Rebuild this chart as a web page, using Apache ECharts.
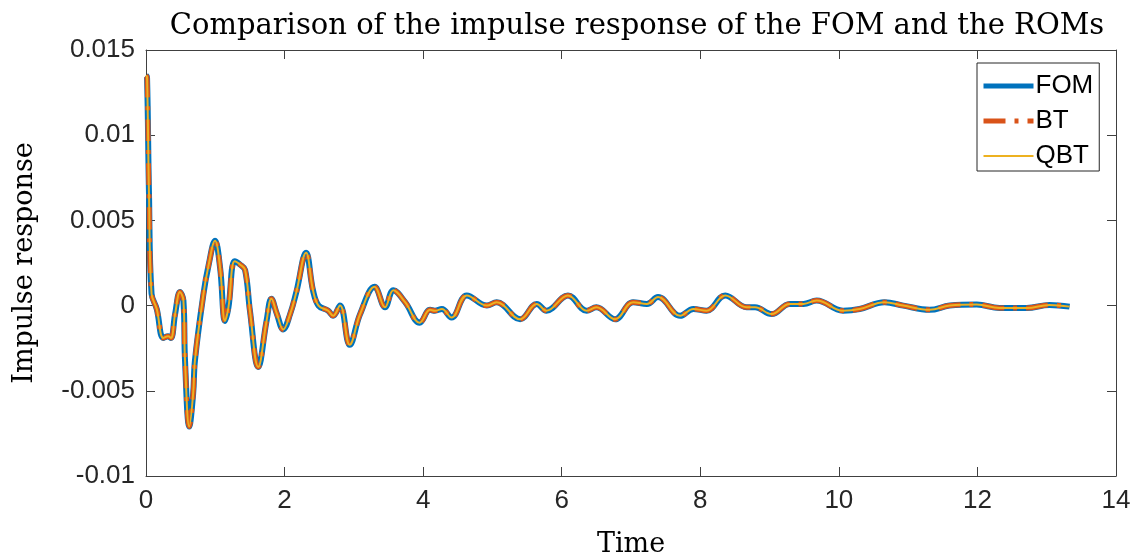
<!DOCTYPE html>
<html>
<head>
<meta charset="utf-8">
<script src="https://cdn.jsdelivr.net/npm/echarts@6/dist/echarts.min.js"></script>
<style>
  html, body { margin: 0; padding: 0; background: #fff; }
  #chart { width: 1132px; height: 554px; }
</style>
</head>
<body>
<div id="chart"></div>
<script>
// time samples
var time = [0, 0.015, 0.043, 0.08, 0.155, 0.25, 0.32, 0.36, 0.42, 0.49, 0.54, 0.563, 0.625, 0.68, 0.707,
    0.83, 0.90, 0.996, 1.07, 1.14, 1.19, 1.28, 1.36, 1.43, 1.50, 1.62, 1.74, 1.81, 1.89, 1.98, 2.08, 2.17,
    2.31, 2.41, 2.49, 2.63, 2.70, 2.80, 2.94, 3.09, 3.30, 3.45, 3.57, 3.74, 3.95, 4.10, 4.17, 4.27, 4.41,
    4.63, 4.92, 5.06, 5.40, 5.64, 5.78, 6.09, 6.36, 6.50, 6.77, 7.03, 7.23, 7.39, 7.71, 7.90, 8.09, 8.36,
    8.67, 8.79, 9.03, 9.29, 9.49, 9.68, 10.06, 10.30, 10.66, 10.93, 11.31, 11.60, 11.99, 12.32, 12.71,
    13.04, 13.33];
// impulse response (FOM, BT and QBT lie on top of each other)
var fom = [0.0135, 0.0134, 0.0066, 0.0007, -0.0002, -0.0019, -0.0018, -0.0019, -0.0005, 0.0008, 0.0003,
    -0.0032, -0.0071, -0.0052, -0.0032, 0.0007, 0.0023, 0.0038, 0.0022, -0.0009, -0.0001, 0.0026, 0.0024,
    0.0021, -0.0003, -0.0036, -0.0009, 0.0004, -0.0005, -0.0014, -0.0005, 0.0008, 0.0031, 0.0009, 0.0000,
    -0.0003, -0.0006, 0.0000, -0.0023, -0.0005, 0.0011, -0.0001, 0.0009, 0.0002, -0.0010, -0.00025,
    -0.0003, -0.0002, -0.0007, 0.0006, 0.0000, 0.0002, -0.0008, 0.0001, -0.0003, 0.0006, -0.0003, -0.0001,
    -0.0008, 0.0002, 0.0001, 0.0005, -0.0006, -0.0002, -0.0003, 0.0006, -0.0001, -0.0001, -0.0005, 0.0001,
    0.0001, 0.0003, -0.0003, -0.0002, 0.0002, 0.0000, -0.00025, 0.0000, 0.00006, -0.00014, -0.00014,
    0.00004, -0.00006];
var bt = fom.slice();
var qbt = fom.slice();

function pairs(ys) {
    return time.map(function (t, i) { return [t, ys[i]]; });
}

var axisCol = '#404040';
var serif = '"DejaVu Serif", "Liberation Serif", serif';
var sans = '"Liberation Sans", Arial, sans-serif';

var chart = echarts.init(document.getElementById('chart'));
var option = {
    animation: false,
    title: {
        text: 'Comparison of the impulse response of the FOM and the ROMs',
        left: 632, top: 7, textAlign: 'center',
        textStyle: { fontFamily: serif, fontWeight: 'normal', fontSize: 29, color: '#000' }
    },
    legend: {
        orient: 'vertical',
        left: 977, top: 63,
        data: [
            { name: 'FOM', lineStyle: { width: 5 } },
            { name: 'BT', lineStyle: { width: 5 } },
            { name: 'QBT', lineStyle: { width: 2 } }
        ],
        itemWidth: 50, itemHeight: 14, itemGap: 9,
        itemStyle: { opacity: 0 },
        padding: [10, 6, 2, 4],
        borderColor: '#262626', borderWidth: 1, borderRadius: 0,
        backgroundColor: '#fff',
        textStyle: { fontFamily: sans, fontSize: 26, color: '#000', padding: [0, 0, 0, -3] }
    },
    grid: { left: 146, right: 16, top: 50, bottom: 78, containLabel: false, outerBoundsMode: 'none' },
    xAxis: [{
        type: 'value', min: 0, max: 14, interval: 2,
        name: 'Time', nameLocation: 'middle', nameGap: 55,
        nameTextStyle: { fontFamily: serif, fontSize: 27, color: '#000' },
        axisLine: { onZero: false, lineStyle: { color: axisCol } },
        axisTick: { inside: true, length: 9, lineStyle: { color: axisCol } },
        axisLabel: { fontFamily: sans, fontSize: 26, color: '#262626', margin: 12 },
        splitLine: { show: false }
    }, {
        type: 'value', min: 0, max: 14, interval: 2, position: 'top',
        axisLine: { onZero: false, lineStyle: { color: axisCol } },
        axisTick: { inside: true, length: 9, lineStyle: { color: axisCol } },
        axisLabel: { show: false }, splitLine: { show: false }
    }],
    yAxis: [{
        type: 'value', min: -0.01, max: 0.015, interval: 0.005,
        name: 'Impulse response', nameLocation: 'middle', nameGap: 108, nameRotate: 90,
        nameTextStyle: { fontFamily: serif, fontSize: 27, color: '#000' },
        axisLine: { show: true, onZero: false, lineStyle: { color: axisCol } },
        axisTick: { show: true, inside: true, length: 9, lineStyle: { color: axisCol } },
        axisLabel: {
            fontFamily: sans, fontSize: 26, color: '#262626', margin: 11,
            formatter: function (v) { return String(+v.toFixed(3)); }
        },
        splitLine: { show: false }
    }, {
        type: 'value', min: -0.01, max: 0.015, interval: 0.005, position: 'right',
        axisLine: { show: true, onZero: false, lineStyle: { color: axisCol } },
        axisTick: { show: true, inside: true, length: 9, lineStyle: { color: axisCol } },
        axisLabel: { show: false }, splitLine: { show: false }
    }],
    series: [{
        name: 'FOM', type: 'line', data: pairs(fom),
        smooth: 0.4, symbol: 'none', color: '#0072BD',
        lineStyle: { width: 6, color: '#0072BD' }
    }, {
        name: 'BT', type: 'line', data: pairs(bt),
        smooth: 0.4, symbol: 'none', color: '#D95319',
        lineStyle: { width: 5, color: '#D95319', type: [22, 9, 4, 9] }
    }, {
        name: 'QBT', type: 'line', data: pairs(qbt),
        smooth: 0.4, symbol: 'none', color: '#EDB120',
        lineStyle: { width: 2, color: '#EDB120' }
    }]
};
chart.setOption(option);
</script>
</body>
</html>
